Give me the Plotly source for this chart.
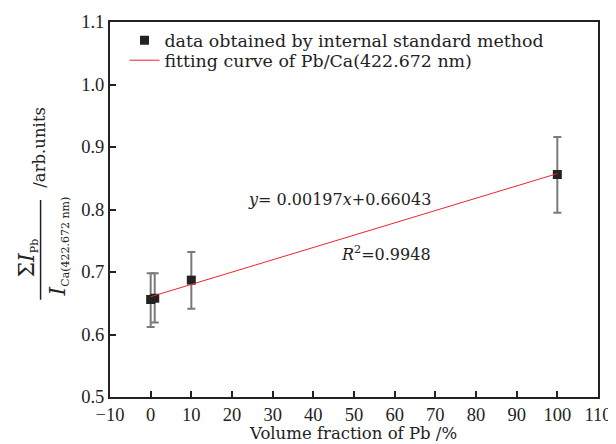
import plotly.graph_objects as go

# data
x_vals = [0, 1, 10, 100]
y_vals = [0.656, 0.658, 0.687, 0.856]
err_plus = [0.042, 0.040, 0.045, 0.060]
err_minus = [0.044, 0.039, 0.046, 0.061]
fit_x = [0, 100]
fit_y = [0.66043, 0.85743]
x_ticks = list(range(-10, 111, 10))
y_ticks = [0.5, 0.6, 0.7, 0.8, 0.9, 1.0, 1.1]

FONT = "DejaVu Serif"
TFONT = "Liberation Serif"
INK = "#222222"
OFF = 8  # default page body margin
L, R, T, B = 109.5, 598, 21.5, 397.5  # window pixel coords of plot area
W, H = 616, 444
PW, PH = R - L, B - T

def px(x):
    return (x - L) / PW

def py(y):
    return (B - y) / PH

fig = go.Figure()
fig.add_trace(go.Scatter(
    x=x_vals, y=y_vals, mode="markers",
    name="data obtained by internal standard method",
    marker=dict(symbol="square", size=9, color=INK),
    error_y=dict(type="data", symmetric=False, array=err_plus, arrayminus=err_minus,
                 color="#7a7a7a", thickness=2, width=4),
    legend="legend",
))
fig.add_trace(go.Scatter(
    x=fit_x, y=fit_y, mode="lines",
    name="fitting curve of Pb/Ca(422.672 nm)",
    line=dict(color="#e8262e", width=1),
    legend="legend2",
))

axis_common = dict(showline=True, linewidth=2, linecolor=INK, mirror=True,
                   ticks="inside", ticklen=6, tickwidth=2, tickcolor=INK,
                   showgrid=False, zeroline=False, automargin=False,
                   tickfont=dict(family=TFONT, size=18.5, color=INK))

fig.update_xaxes(range=[-10, 110], tickvals=x_ticks,
                 ticktext=[("−10" if v < 0 else str(v)) for v in x_ticks],
                 ticklabelstandoff=0, **axis_common)
fig.update_yaxes(range=[0.5, 1.1], tickvals=y_ticks,
                 ticktext=[f"{v:.1f}" for v in y_ticks], **axis_common)

def a(x, y, text, size, angle=0, xanchor="center", family=FONT):
    return dict(x=px(x), y=py(y), xref="paper", yref="paper", showarrow=False,
                text=text, textangle=angle, xanchor=xanchor, yanchor="middle",
                font=dict(family=family, size=size, color=INK))

ann = [
    a(27, 258, "Σ<i>I</i><sub><span style='font-size:11px'>Pb</span></sub>", 22, -90),
    a(58, 247, "<i>I</i><sub><span style='font-size:11px'>Ca(422.672 nm)</span></sub>", 22, -90),
    a(39, 147, "/arb.units", 16.5, -90),
    a(433, 199, "<i>y</i>= 0.00197<i>x</i>+0.66043", 16, 0, "right"),
    a(433, 254, "<i>R</i><sup>2</sup>=0.9948", 16, 0, "right"),
    a(353, 434, "Volume fraction of Pb /%", 16.5),
]

leg_common = dict(xanchor="left", yanchor="middle", bgcolor="rgba(0,0,0,0)",
                  font=dict(family=FONT, size=17.4, color=INK), itemwidth=30)

fig.update_layout(
    width=W - OFF, height=H - OFF,
    margin=dict(l=L - OFF, r=W - R, t=T - OFF, b=H - B),
    paper_bgcolor="white", plot_bgcolor="white",
    font=dict(family=FONT, size=16, color=INK),
    annotations=ann,
    shapes=[dict(type="line", xref="paper", yref="paper",
                 x0=px(40), x1=px(40), y0=py(200), y1=py(300),
                 line=dict(color=INK, width=1.5))],
    legend=dict(x=px(124), y=py(40), **leg_common),
    legend2=dict(x=px(124), y=py(60), **leg_common),
    showlegend=True,
)

fig.write_html("out.html")
